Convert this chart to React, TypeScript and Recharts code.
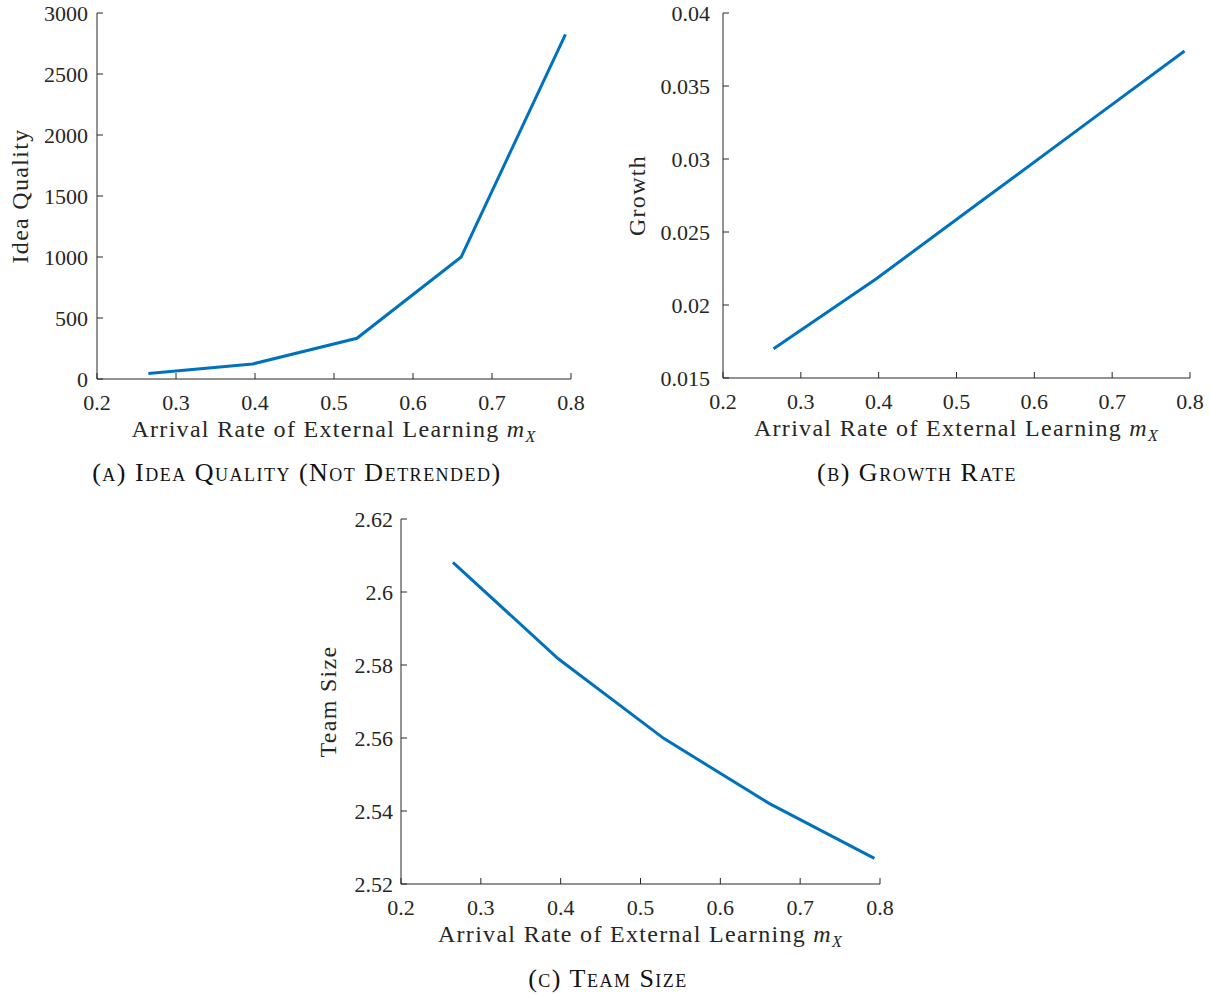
import { LineChart, Line, XAxis, YAxis, Label } from 'recharts';

// arrival rate of external learning (shared x values)
const arrivalRates = [0.265, 0.397, 0.529, 0.661, 0.793];

const ideaQuality = [46, 123, 334, 1000, 2825];
const growthRate = [0.017, 0.0218, 0.027, 0.0322, 0.0374];
const teamSize = [2.6081, 2.5817, 2.5599, 2.5421, 2.527];

const xTicks = [0.2, 0.3, 0.4, 0.5, 0.6, 0.7, 0.8];
const ideaTicks = [0, 500, 1000, 1500, 2000, 2500, 3000];
const growthTicks = [0.015, 0.02, 0.025, 0.03, 0.035, 0.04];
const teamTicks = [2.52, 2.54, 2.56, 2.58, 2.6, 2.62];

const FONT = '"Liberation Serif", "DejaVu Serif", serif';
const INK = '#262626';
const BLUE = '#0072BD';

type PanelProps = {
  left: number;
  top: number;
  plotLeft: number;
  plotRight: number;
  plotTop: number;
  plotBottom: number;
  values: number[];
  yTicks: number[];
  yLabel: string;
  yLabelX: number;
  yTickGap: number;
  caption: string;
  captionX: number;
  captionY: number;
};

const WIDTH = 620;
const HEIGHT = 470;
const Y_AXIS_W = 60;
const X_AXIS_H = 40;

function XTitle({ viewBox }: any) {
  const cx = viewBox.x + viewBox.width / 2;
  const y = viewBox.y + 58;
  return (
    <text x={cx} y={y} textAnchor="middle" fill={INK} fontFamily={FONT} fontSize={24} letterSpacing={1.3}>
      Arrival Rate of External Learning{' '}
      <tspan fontStyle="italic">m</tspan>
      <tspan fontStyle="italic" fontSize={16} dy={5}>X</tspan>
    </text>
  );
}

function Panel(p: PanelProps) {
  const data = arrivalRates.map((x, i) => ({ x, y: p.values[i] }));
  const margin = {
    left: p.plotLeft - Y_AXIS_W,
    right: WIDTH - p.plotRight,
    top: p.plotTop,
    bottom: HEIGHT - p.plotBottom - X_AXIS_H,
  };
  const midY = (p.plotTop + p.plotBottom) / 2;
  return (
    <div style={{ position: 'absolute', left: p.left, top: p.top, width: WIDTH, height: HEIGHT }}>
      <LineChart width={WIDTH} height={HEIGHT} data={data} margin={margin}>
        <XAxis
          dataKey="x"
          type="number"
          domain={[0.2, 0.8]}
          ticks={xTicks}
          height={X_AXIS_H}
          stroke={INK}
          tickSize={-6}
          tickMargin={21}
          tick={{ fill: INK, fontFamily: FONT, fontSize: 22 }}
          axisLine={{ stroke: INK, strokeWidth: 1 }}
          interval={0}
        >
          <Label content={XTitle} />
        </XAxis>
        <YAxis
          type="number"
          domain={[p.yTicks[0], p.yTicks[p.yTicks.length - 1]]}
          ticks={p.yTicks}
          width={Y_AXIS_W}
          stroke={INK}
          tickSize={-6}
          tickMargin={6 + p.yTickGap}
          tick={{ fill: INK, fontFamily: FONT, fontSize: 22 }}
          axisLine={{ stroke: INK, strokeWidth: 1 }}
          interval={0}
        />
        <Line
          dataKey="y"
          type="linear"
          stroke={BLUE}
          strokeWidth={3}
          dot={false}
          isAnimationActive={false}
        />
        <text
          x={p.yLabelX}
          y={midY}
          transform={`rotate(-90 ${p.yLabelX} ${midY})`}
          textAnchor="middle"
          fill={INK}
          fontFamily={FONT}
          fontSize={24}
          letterSpacing={1.3}
        >
          {p.yLabel}
        </text>
      </LineChart>
      <div
        style={{
          position: 'absolute',
          left: p.captionX - 300,
          top: p.captionY - 17,
          width: 600,
          textAlign: 'center',
          fontFamily: FONT,
          fontSize: 26,
          letterSpacing: 1.5,
          fontVariant: 'small-caps',
          color: '#111',
          lineHeight: '34px',
        }}
      >
        {p.caption}
      </div>
    </div>
  );
}

export default function App() {
  return (
    <div style={{ position: 'absolute', left: 0, top: 0, width: 1210, height: 994, background: '#fff' }}>
      <Panel
        left={0}
        top={0}
        plotLeft={97}
        plotRight={571}
        plotTop={13}
        plotBottom={379}
        values={ideaQuality}
        yTicks={ideaTicks}
        yLabel="Idea Quality"
        yLabelX={28}
        yTickGap={9}
        caption="(a) Idea Quality (Not Detrended)"
        captionX={297}
        captionY={473}
      />
      <Panel
        left={600}
        top={0}
        plotLeft={123}
        plotRight={590}
        plotTop={13}
        plotBottom={378}
        values={growthRate}
        yTicks={growthTicks}
        yLabel="Growth"
        yLabelX={45}
        yTickGap={13}
        caption="(b) Growth Rate"
        captionX={317}
        captionY={473}
      />
      <Panel
        left={300}
        top={506}
        plotLeft={101}
        plotRight={580}
        plotTop={13}
        plotBottom={378}
        values={teamSize}
        yTicks={teamTicks}
        yLabel="Team Size"
        yLabelX={36}
        yTickGap={8}
        caption="(c) Team Size"
        captionX={308}
        captionY={473}
      />
    </div>
  );
}
